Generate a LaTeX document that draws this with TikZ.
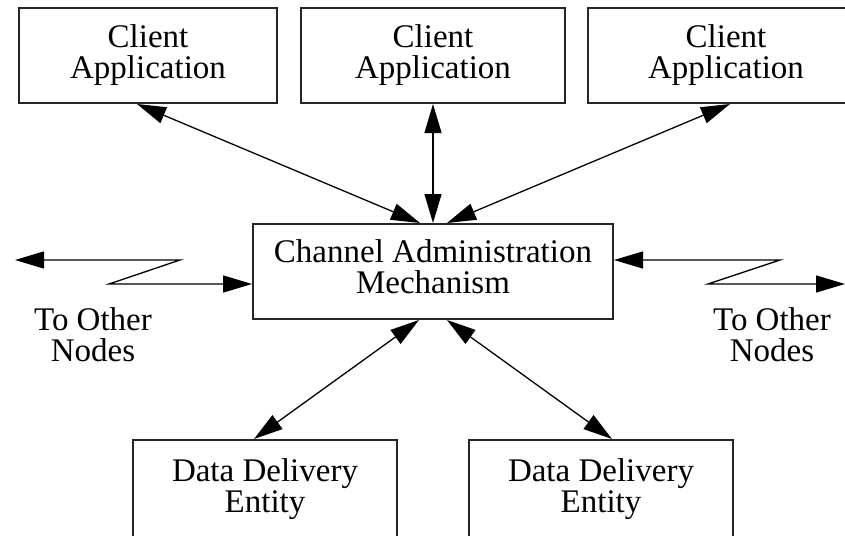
\documentclass[tikz,border=0pt]{standalone}
\usepackage{fontspec}
\setmainfont{Liberation Serif}
\usetikzlibrary{arrows.meta}

\begin{document}
\begin{tikzpicture}[x=1pt, y=-1pt]
\tikzstyle{box}=[draw=black!85, line width=2pt, inner sep=0pt,
                 align=center, font=\fontsize{33}{31}\selectfont]
\tikzstyle{lbl}=[inner sep=0pt, align=center, font=\fontsize{33}{31}\selectfont]
\tikzstyle{link}=[line width=1.3pt, {Triangle[length=29pt,width=17pt]}-{Triangle[length=29pt,width=17pt]}]
\useasboundingbox (0,0) rectangle (845,535);
% client applications along the top
\node[box, minimum width=258pt, minimum height=95pt] (CA1) at (148,55.5) {Client\\Application};
\node[box, minimum width=264pt, minimum height=95pt] (CA2) at (433,55.5) {Client\\Application};
\node[box, minimum width=276pt, minimum height=95pt] (CA3) at (726,55.5) {Client\\Application};
% the mechanism in the middle
\node[box, minimum width=360pt, minimum height=95pt, text depth=9pt] (CAM) at (433,271.5) {Channel Administration\\Mechanism};
% delivery entities, cut off by the bottom edge
\node[box, minimum width=264pt, minimum height=99pt] (DD1) at (265,489.5) {Data Delivery\\Entity};
\node[box, minimum width=264pt, minimum height=99pt] (DD2) at (601,489.5) {Data Delivery\\Entity};
\node[lbl] (TL) at (93,335) {To Other\\Nodes};
\node[lbl] (TR) at (772,335) {To Other\\Nodes};
% free ends of the zigzag links
\coordinate (L1) at (15,260);
\coordinate (L2) at (180,260);
\coordinate (L3) at (109,284);
\coordinate (R1) at (780,260);
\coordinate (R2) at (708,284);
\coordinate (R3) at (845,284);

\draw[link] ([xshift=-11pt]CA1.south) -- ([xshift=-13pt]CAM.north);
\draw[link] (CA2.south) -- (CAM.north);
\draw[link] ([xshift=4pt]CA3.south) -- ([xshift=14pt]CAM.north);
\draw[link] ([xshift=-14pt]CAM.south) -- ([xshift=-11pt]DD1.north);
\draw[link] ([xshift=14pt]CAM.south) -- ([xshift=11pt]DD2.north);

% zigzag links to other nodes
\draw[link] (L1) -- (L2) -- (L3) -- (CAM.west |- L3);
\draw[link] (CAM.east |- R1) -- (R1) -- (R2) -- (R3);
\end{tikzpicture}
\end{document}
